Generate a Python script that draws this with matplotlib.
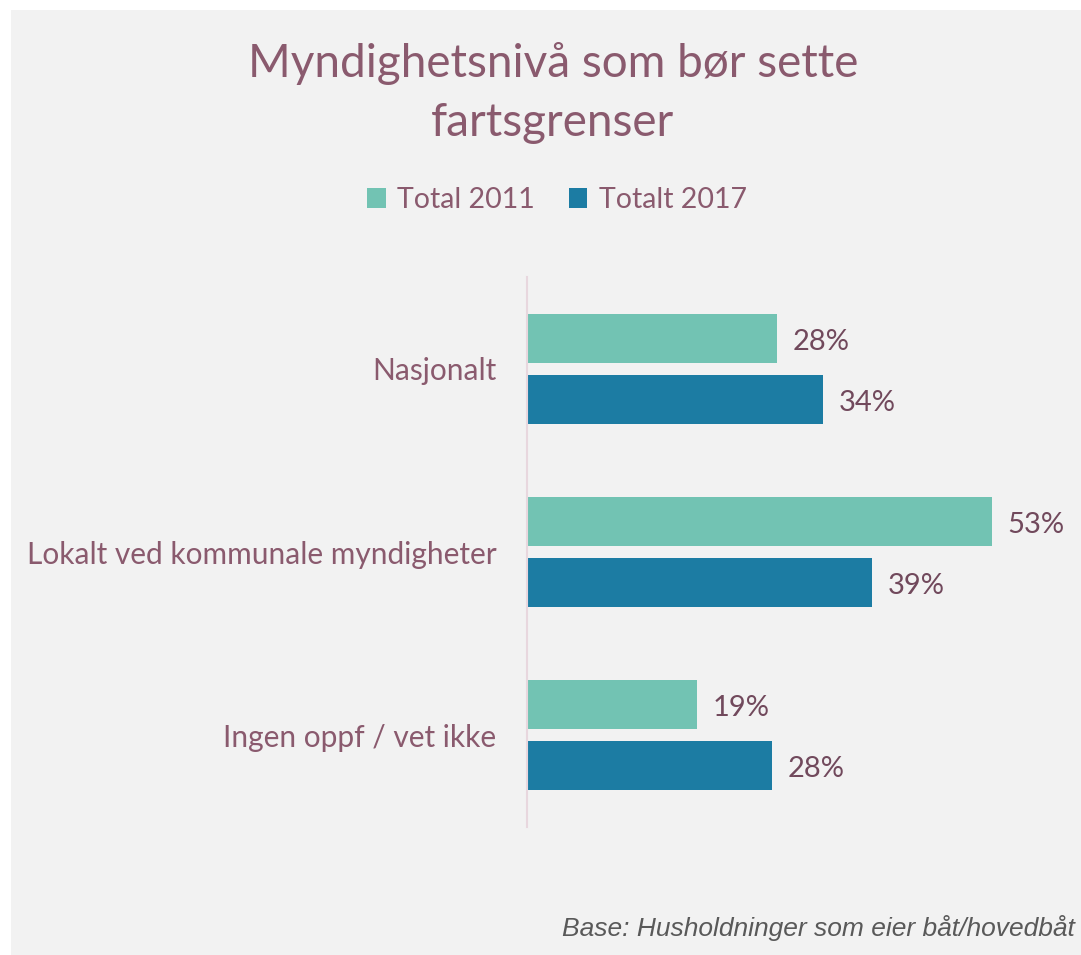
import matplotlib
matplotlib.use("Agg")
import matplotlib.pyplot as plt
from matplotlib.patches import Rectangle, Patch
import numpy as np

categories = ["Nasjonalt", "Lokalt ved kommunale myndigheter", "Ingen oppf / vet ikke"]
total_2011 = [28.4, 52.8, 19.3]
totalt_2017 = [33.6, 39.2, 27.8]
series_names = ["Total 2011", "Totalt 2017"]

c2011 = "#72c3b3"
c2017 = "#1c7ca3"
txt = "#8a5a6e"
lbl = "#71495c"

W, H = 1081, 955
fig = plt.figure(figsize=(W / 100, H / 100), dpi=100)
fig.patch.set_facecolor("white")
fig.add_artist(Rectangle((11 / W, 0), 1 - 11 / W, 1 - 10 / H, transform=fig.transFigure,
                         facecolor="#f2f2f2", edgecolor="none", zorder=-10))

# axes: x from 527 px to 1055 px, y from 277 px to 827 px
ax = fig.add_axes([527 / W, 1 - 827 / H, (1055 - 527) / W, (827 - 277) / H])
ax.set_facecolor("none")
ax.set_xlim(0, 60)
ax.set_ylim(2.5, -0.5)

y = np.arange(len(categories))
bh = 0.267
off = (bh + 0.065) / 2
b1 = ax.barh(y - off, total_2011, height=bh, color=c2011)
b2 = ax.barh(y + off, totalt_2017, height=bh, color=c2017)

for bars, vals in ((b1, total_2011), (b2, totalt_2017)):
    for rect, v in zip(bars, vals):
        ax.annotate(f"{v:.0f}%", (v, rect.get_y() + rect.get_height() / 2),
                    xytext=(11.5, -2.5), textcoords="offset points", va="center", ha="left",
                    fontsize=21, color=lbl, family="Lato")

ax.set_yticks(y)
ax.set_yticklabels(categories, fontsize=21.5, color=txt, family="Lato")
ax.tick_params(axis="y", length=0, pad=22)
ax.set_xticks([])
for s in ["top", "right", "bottom"]:
    ax.spines[s].set_visible(False)
ax.spines["left"].set_color("#e8d7de")
ax.spines["left"].set_linewidth(1.5)

fig.text(553 / W, 1 - 63 / H, "Myndighetsnivå som bør sette", ha="center", va="center",
         fontsize=33, color=txt, family="Lato")
fig.text(553 / W, 1 - 123 / H, "fartsgrenser", ha="center", va="center",
         fontsize=33, color=txt, family="Lato")

handles = [Patch(facecolor=c2011), Patch(facecolor=c2017)]
fig.legend(handles, series_names, loc="center", bbox_to_anchor=(557 / W, 1 - 200 / H),
           ncol=2, frameon=False, prop={"family": "Lato", "size": 20.5}, labelcolor=txt,
           handlelength=0.65, handleheight=0.65, handletextpad=0.4, columnspacing=1.2)

fig.text(1075 / W, 1 - 928 / H, "Base: Husholdninger som eier båt/hovedbåt", ha="right",
         va="center", fontsize=19, style="italic", color="#595959", family="Liberation Sans")

fig.savefig("out.png", dpi=100, facecolor=fig.get_facecolor())
